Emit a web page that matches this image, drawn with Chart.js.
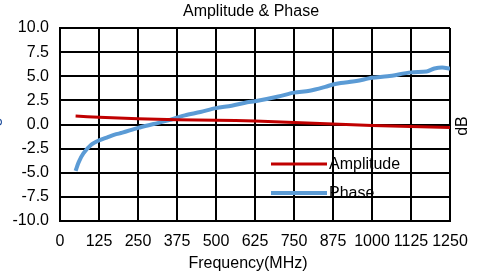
<!DOCTYPE html>
<html>
<head>
<meta charset="utf-8">
<script src="https://cdn.jsdelivr.net/npm/chart.js@4"></script>
<style>
  html, body { margin: 0; padding: 0; background: #fff; }
  #wrap { width: 484px; height: 275px; }
</style>
</head>
<body>
<div id="wrap"><canvas id="chart" width="484" height="275"></canvas></div>
<script>
// values
var ampFreq = [50, 125, 250, 375, 500, 625, 750, 875, 1000, 1125, 1250]
var ampValues = [0.88, 0.75, 0.6, 0.5, 0.45, 0.35, 0.2, 0.05, -0.1, -0.2, -0.3]

var phaseFreq = [50, 60, 75, 100, 125, 150, 175, 200, 250, 300, 350, 375, 400, 450, 500, 550, 600, 625,
  700, 750, 800, 850, 875, 900, 950, 1000, 1050, 1125, 1175, 1200, 1225, 1250]
var phaseValues = [-4.8, -3.9, -3.0, -2.1, -1.65, -1.35, -1.05, -0.85, -0.35, 0.05, 0.45, 0.7, 0.95, 1.3,
  1.7, 1.95, 2.3, 2.4, 2.9, 3.3, 3.5, 3.9, 4.15, 4.3, 4.5, 4.85, 5.0, 5.4, 5.5, 5.8, 5.9, 5.8]

var xTicks = [0, 125, 250, 375, 500, 625, 750, 875, 1000, 1125, 1250]
var yTicks = [-10, -7.5, -5, -2.5, 0, 2.5, 5, 7.5, 10]

var FONT = "'Liberation Sans', Arial, sans-serif"

function toPoints(xs, ys) {
  return xs.map(function (x, i) { return { x: x, y: ys[i] } })
}

// titles, side labels and the legend inside the plot
var decorations = {
  id: "decorations",
  afterDraw: function (chart) {
    var ctx = chart.ctx
    ctx.save()
    ctx.fillStyle = "#000"
    ctx.font = "16px " + FONT
    ctx.textAlign = "center"
    ctx.textBaseline = "middle"
    ctx.fillText("Amplitude & Phase", 251, 12)
    ctx.fillText("Frequency(MHz)", 248, 264)

    // right axis label
    ctx.save()
    ctx.translate(463, 126)
    ctx.rotate(-Math.PI / 2)
    ctx.fillText("dB", 0, 0)
    ctx.restore()

    // left axis label, mostly outside the canvas
    ctx.save()
    ctx.fillStyle = "#1f4e9c"
    ctx.translate(-5, 132)
    ctx.rotate(-Math.PI / 2)
    ctx.fillText("Deg", 0, 0)
    ctx.restore()

    // legend
    var ys = [164, 193]
    chart.data.datasets.forEach(function (ds, i) {
      ctx.strokeStyle = ds.borderColor
      ctx.lineWidth = ds.borderWidth
      ctx.beginPath()
      ctx.moveTo(271, ys[i])
      ctx.lineTo(327, ys[i])
      ctx.stroke()
      ctx.fillStyle = "#000"
      ctx.textAlign = "left"
      ctx.fillText(ds.label, 329, ys[i] + 1)
    })
    ctx.restore()
  }
}

var ctx = document.getElementById("chart").getContext("2d")
var myChart = new Chart(ctx, {
  type: "line",
  data: {
    datasets: [
      {
        label: "Amplitude",
        data: toPoints(ampFreq, ampValues),
        borderColor: "#c00000",
        borderWidth: 3,
        pointRadius: 0,
        tension: 0.3,
      },
      {
        label: "Phase",
        data: toPoints(phaseFreq, phaseValues),
        borderColor: "#5b9bd5",
        borderWidth: 4,
        pointRadius: 0,
        tension: 0.3,
      },
    ],
  },
  options: {
    responsive: false,
    animation: false,
    layout: { padding: { left: 0, right: 34, top: 28, bottom: 0 } },
    plugins: {
      legend: { display: false },
      title: { display: false },
      tooltip: { enabled: false },
    },
    scales: {
      x: {
        type: "linear",
        min: 0,
        max: 1250,
        afterBuildTicks: function (axis) {
          axis.ticks = xTicks.map(function (v) { return { value: v } })
        },
        afterFit: function (axis) { axis.height = 54 },
        grid: { color: "#000", lineWidth: 2, drawTicks: false },
        border: { color: "#000", width: 2 },
        ticks: {
          color: "#000",
          font: { family: FONT, size: 16 },
          padding: 11,
          maxRotation: 0,
          autoSkip: false,
          callback: function (v) { return String(v) },
        },
      },
      y: {
        min: -10,
        max: 10,
        afterBuildTicks: function (axis) {
          axis.ticks = yTicks.map(function (v) { return { value: v } })
        },
        afterFit: function (axis) { axis.width = 60 },
        grid: { color: "#000", lineWidth: 2, drawTicks: false },
        border: { color: "#000", width: 2 },
        ticks: {
          color: "#000",
          font: { family: FONT, size: 16 },
          padding: 11,
          callback: function (v) { return Number(v).toFixed(1) },
        },
      },
    },
  },
  plugins: [decorations],
})
</script>
</body>
</html>
